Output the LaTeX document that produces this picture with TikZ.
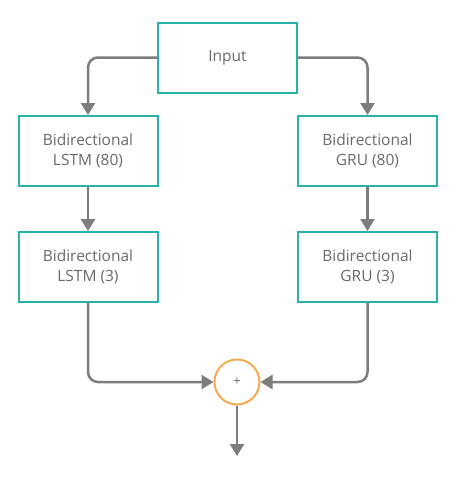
\documentclass[tikz,border=0pt]{standalone}
\usepackage{fontspec}
\setmainfont{Open Sans}
\usetikzlibrary{arrows.meta}
\definecolor{boxteal}{RGB}{38,178,170}
\definecolor{sumorange}{RGB}{245,170,80}
\definecolor{linegray}{RGB}{125,125,125}
\definecolor{textgray}{RGB}{105,105,105}
\tikzset{
  layer/.style={draw=boxteal, line width=2pt, minimum width=139pt, minimum height=70pt,
    align=center, text=textgray, font=\fontsize{15.5}{20}\selectfont},
  link/.style={draw=linegray, line width=2.5pt, rounded corners=10pt,
    -{Triangle[width=14pt,length=12pt]}}
}
\begin{document}
\begin{tikzpicture}[x=1pt,y=-1pt]
\useasboundingbox (0,0) rectangle (461,477);
\node [layer] (in) at (227.5,57.5) {Input};
\node [layer] (lstma) at (88,151) {Bidirectional\\LSTM (80)};
\node [layer] (grua) at (367.5,151) {Bidirectional\\GRU (80)};
\node [layer] (lstmb) at (88,267) {Bidirectional\\LSTM (3)};
\node [layer] (grub) at (367.5,267) {Bidirectional\\GRU (3)};
\node [circle, draw=sumorange, line width=2pt, minimum size=45pt, inner sep=0pt,
  text=textgray, font=\fontsize{13}{15}\selectfont] (sum) at (237,382) {+};
\coordinate (out) at (237,456);
\draw [link] (in.west) -| (lstma.north);
\draw [link] (in.east) -| (grua.north);
\draw [link] (lstma) -- (lstmb);
\draw [link] (grua) -- (grub);
\draw [link] (lstmb.south) |- (sum.west);
\draw [link] (grub.south) |- (sum.east);
\draw [link] (sum.south) -- (out);
\end{tikzpicture}
\end{document}
